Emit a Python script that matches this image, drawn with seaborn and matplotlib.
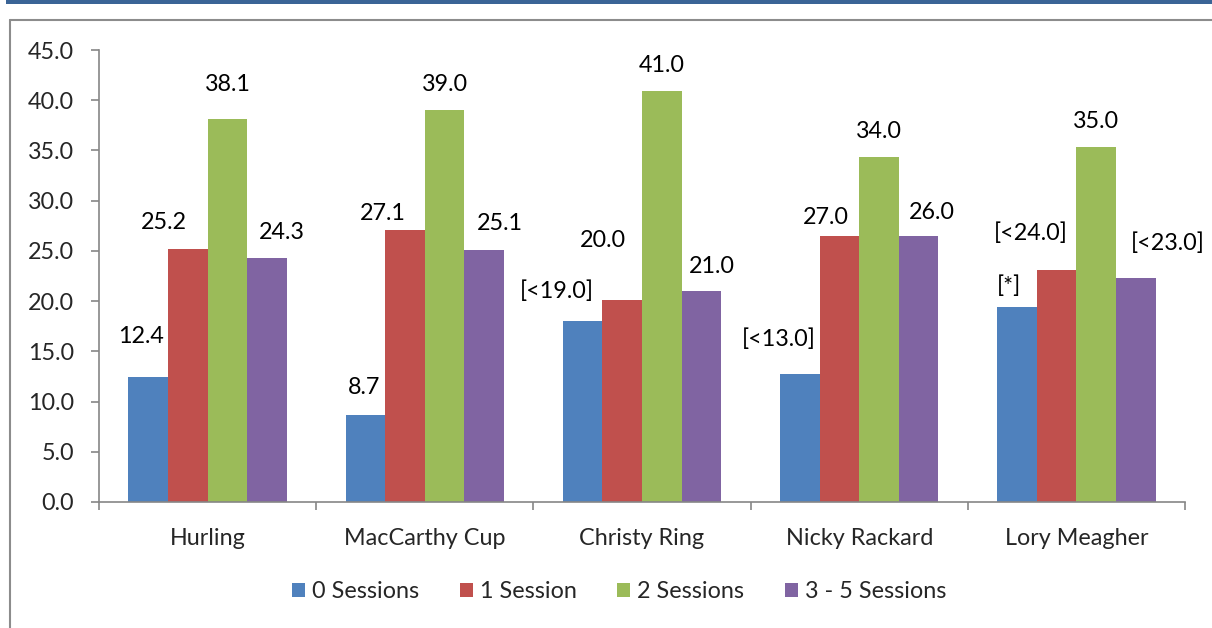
import matplotlib
matplotlib.use("Agg")
import matplotlib.pyplot as plt
import seaborn as sns
import pandas as pd
from matplotlib.patches import Rectangle, Patch
from matplotlib.lines import Line2D
from matplotlib.ticker import FixedLocator, MultipleLocator, FormatStrFormatter

# ---- data ----
categories = ["Hurling", "MacCarthy Cup", "Christy Ring", "Nicky Rackard", "Lory Meagher"]
series = ["0 Sessions", "1 Session", "2 Sessions", "3 - 5 Sessions"]
sessions0 = [12.4, 8.7, 18.0, 12.75, 19.4]
sessions1 = [25.2, 27.1, 20.1, 26.5, 23.1]
sessions2 = [38.1, 39.0, 40.9, 34.3, 35.3]
sessions3_5 = [24.3, 25.1, 21.0, 26.5, 22.3]
labels0 = ["12.4", "8.7", "[<19.0]", "[<13.0]", "[*]"]
labels1 = ["25.2", "27.1", "20.0", "27.0", "[<24.0]"]
labels2 = ["38.1", "39.0", "41.0", "34.0", "35.0"]
labels3_5 = ["24.3", "25.1", "21.0", "26.0", "[<23.0]"]

colors = ["#4F81BD", "#C0504D", "#9BBB59", "#8064A2"]

# label nudges (pixels) relative to bar top centre, per series x category
label_nudge = [
    [(-7, 41), (-1, 27), (-26, 30), (-21, 35), (-8, 21)],
    [(-24, 26), (-22, 16), (-19, 60), (-14, 18), (-26, 37)],
    [(0, 35), (0, 26), (0, 26), (0, 26), (0, 26)],
    [(15, 25), (16, 26), (10, 25), (13, 23), (32, 35)],
]

values = [sessions0, sessions1, sessions2, sessions3_5]
texts = [labels0, labels1, labels2, labels3_5]

df = pd.DataFrame({
    "Group": categories * len(series),
    "Series": [s for s in series for _ in categories],
    "Value": [v for vals in values for v in vals],
})

sns.set_style("white")
plt.rcParams["font.family"] = ["Lato", "DejaVu Sans"]
FS = 16.8

fig = plt.figure(figsize=(12.12, 6.28), dpi=100)
ax = fig.add_axes([99 / 1212, 126 / 628, 1086 / 1212, 452 / 628])

sns.barplot(data=df, x="Group", y="Value", hue="Series", palette=colors,
            width=0.73, saturation=1, dodge=True, ax=ax, legend=False,
            linewidth=0, errorbar=None)

ax.set_xlim(-0.5, len(categories) - 0.5)
ax.set_ylim(0, 45)
ax.yaxis.set_major_locator(MultipleLocator(5))
ax.yaxis.set_major_formatter(FormatStrFormatter("%.1f"))
ax.set_xlabel("")
ax.set_ylabel("")

gray = "#868686"
for s in ["top", "right"]:
    ax.spines[s].set_visible(False)
for s in ["left", "bottom"]:
    ax.spines[s].set_color(gray)
    ax.spines[s].set_linewidth(1.2)

ax.tick_params(axis="y", direction="out", length=6, width=1.2, color=gray,
               labelsize=FS, pad=12, left=True)
ax.tick_params(axis="x", which="major", length=0, labelsize=FS, pad=19)
ax.xaxis.set_minor_locator(FixedLocator([i - 0.5 for i in range(len(categories) + 1)]))
ax.tick_params(axis="x", which="minor", direction="out", length=6, width=1.2,
               color=gray, bottom=True)

# data labels
for si, cont in enumerate(ax.containers):
    for ci, bar in enumerate(cont):
        dx, dy = label_nudge[si][ci]
        ax.annotate(texts[si][ci],
                    xy=(bar.get_x() + bar.get_width() / 2, bar.get_height()),
                    xytext=(dx, dy), textcoords="offset pixels",
                    ha="center", va="center", fontsize=FS, color="black")

# legend
handles = [Patch(facecolor=c, edgecolor="none") for c in colors]
fig.legend(handles, series, loc="center", bbox_to_anchor=(619 / 1212, 1 - 592 / 628),
           ncol=4, frameon=False, fontsize=FS, handlelength=0.55, handleheight=0.55,
           handletextpad=0.3, columnspacing=1.75)

# chart frame and top band
fig.patches.append(Rectangle((6 / 1212, 1 - 4 / 628), 1, 4 / 628, transform=fig.transFigure,
                             facecolor="#3A6496", edgecolor="none", zorder=0))
fig.lines.append(Line2D([10 / 1212, 10 / 1212], [0, 1 - 20 / 628], transform=fig.transFigure,
                        color="#8C8C8C", linewidth=1.5))
fig.lines.append(Line2D([10 / 1212, 1], [1 - 20 / 628, 1 - 20 / 628], transform=fig.transFigure,
                        color="#8C8C8C", linewidth=1.5))

fig.savefig("out.png", dpi=100)
